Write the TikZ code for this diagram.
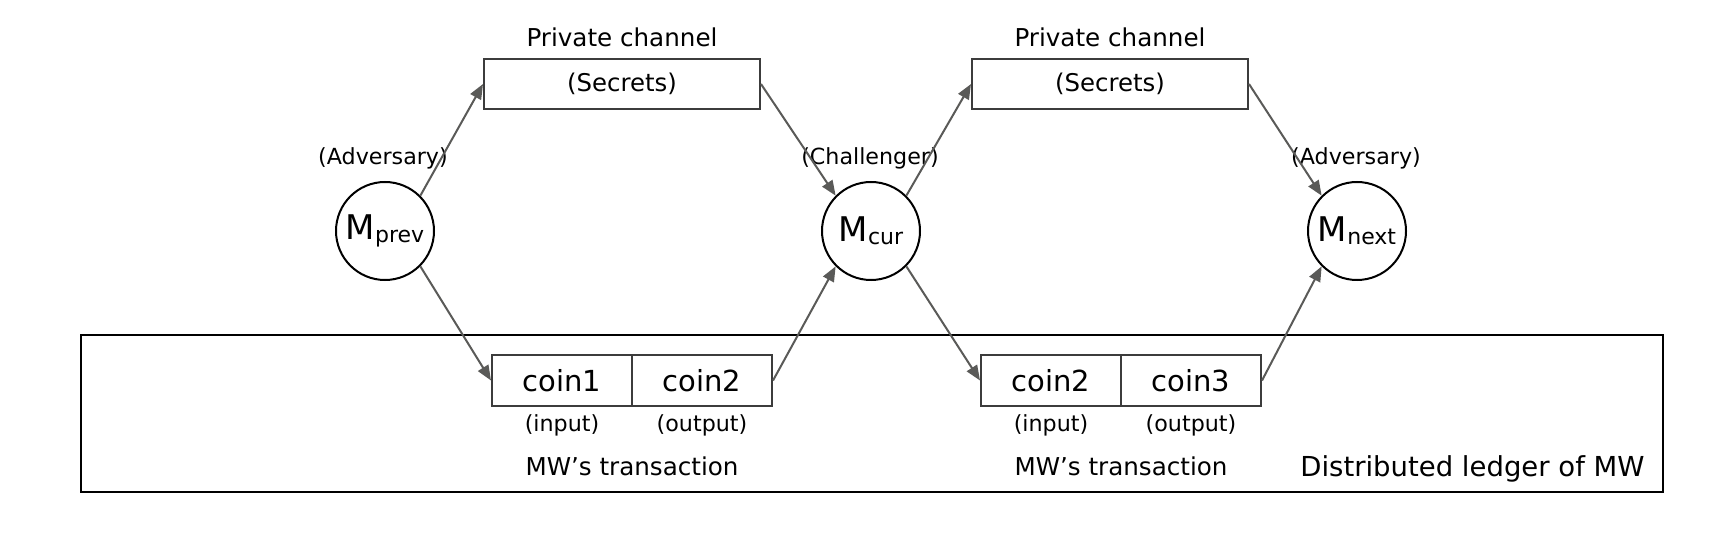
\documentclass[tikz,border=0pt]{standalone}
\usepackage{fontspec}
\setmainfont{DejaVu Sans}
\usetikzlibrary{arrows.meta}
\definecolor{linkgray}{HTML}{5A5A58}
\definecolor{boxgray}{HTML}{3C3C3C}
\newcommand{\mname}[1]{{\fontsize{17}{20}\selectfont M}\raisebox{-1.6pt}{\fontsize{11}{13}\selectfont #1}}

\begin{document}
\begin{tikzpicture}[x=0.5pt,y=-0.5pt,
  secretbox/.style={draw=boxgray,line width=1pt,minimum width=138pt,minimum height=25pt,inner sep=0pt,font=\fontsize{12.2}{14}\selectfont},
  coinbox/.style={draw=boxgray,line width=1pt,minimum width=70pt,minimum height=25.5pt,inner sep=0pt,font=\fontsize{14.5}{17}\selectfont},
  party/.style={draw,circle,line width=1pt,minimum size=49pt,inner sep=0pt},
  small/.style={font=\fontsize{11.1}{13}\selectfont,anchor=base,inner sep=0pt},
  caption/.style={font=\fontsize{12.3}{14}\selectfont,anchor=base,inner sep=0pt},
  link/.style={draw=linkgray,line width=1pt,-{Triangle[length=7.5pt,width=6pt]}}]
  \useasboundingbox (0,0) rectangle (1730,534);
  % ledger
  \draw[line width=1pt] (81,335) rectangle (1663,492);
  \node[font=\fontsize{13.75}{16}\selectfont,anchor=base east,inner sep=0pt] (ledger) at (1645,476) {Distributed ledger of MW};
  % private channels
  \node[secretbox] (sec1) at (622,84) {(Secrets)};
  \node[secretbox] (sec2) at (1110,84) {(Secrets)};
  \node[caption] (pc1) at (622,47) {Private channel};
  \node[caption] (pc2) at (1110,47) {Private channel};
  % machines
  \node[party] (prev) at (385,231) {\mname{prev}};
  \node[party] (cur) at (871,231) {\mname{cur}};
  \node[party] (next) at (1357,231) {\mname{next}};
  \node[small] (role1) at (383,165) {(Adversary)};
  \node[small] (role2) at (870,165) {(Challenger)};
  \node[small] (role3) at (1356,165) {(Adversary)};
  % transactions
  \node[coinbox] (in1) at (562,380.5) {coin1};
  \node[coinbox] (out1) at (702,380.5) {coin2};
  \node[coinbox] (in2) at (1051,380.5) {coin2};
  \node[coinbox] (out2) at (1191,380.5) {coin3};
  \node[small] (lin1) at (562,431) {(input)};
  \node[small] (lout1) at (702,431) {(output)};
  \node[small] (lin2) at (1051,431) {(input)};
  \node[small] (lout2) at (1191,431) {(output)};
  \node[caption] (tx1) at (632,475) {MW’s transaction};
  \node[caption] (tx2) at (1121,475) {MW’s transaction};
  % links
  \draw[link] (prev.north east) -- (sec1.west);
  \draw[link] (sec1.east) -- (cur.north west);
  \draw[link] (cur.north east) -- (sec2.west);
  \draw[link] (sec2.east) -- (next.north west);
  \draw[link] (prev.south east) -- (in1.west);
  \draw[link] (out1.east) -- (cur.south west);
  \draw[link] (cur.south east) -- (in2.west);
  \draw[link] (out2.east) -- (next.south west);
\end{tikzpicture}
\end{document}
